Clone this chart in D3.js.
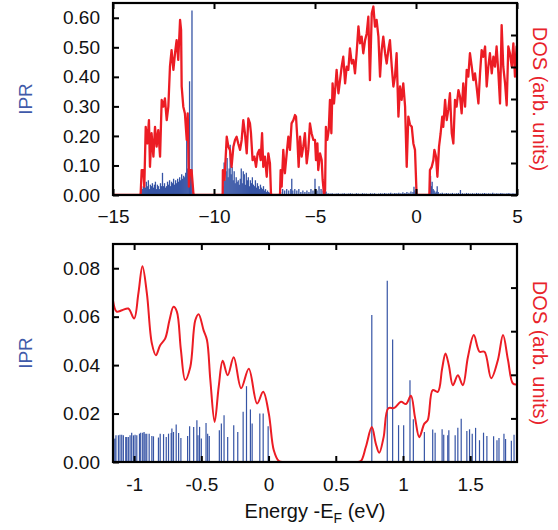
<!DOCTYPE html>
<html><head><meta charset="utf-8">
<script src="https://cdn.jsdelivr.net/npm/d3@7"></script>
<style>body{margin:0;background:#fff}svg{display:block}</style>
</head><body>
<svg id="c" width="558" height="530"></svg>
<script>
// ---------- DATA ----------
const topXTicks = [-15, -10, -5, 0, 5];
const topYTicks = [0, 0.1, 0.2, 0.3, 0.4, 0.5, 0.6];
const topDosTicks = [0, 1, 2, 3, 4, 5];
const botXTicks = [-1, -0.5, 0, 0.5, 1, 1.5];
const botXLabels = ["-1", "-0.5", "0", "0.5", "1", "1.5"];
const botYTicks = [0, 0.02, 0.04, 0.06, 0.08];
const botDosTicks = [1, 2, 3, 4];

// Top panel DOS (energy eV, arb. units)
const dosTop = [
[-15,0],[-13.66,0],[-13.63,0.05],[-13.58,0.78],[-13.50,0.78],[-13.45,0.26],[-13.38,2.13],[-13.30,1.61],[-13.22,2.34],[-13.17,0.88],[-13.09,1.93],[-13.00,1.20],[-12.92,2.13],[-12.84,1.51],[-12.76,2.03],[-12.67,1.20],[-12.59,2.97],[-12.51,2.76],[-12.43,3.02],[-12.34,2.34],[-12.26,2.76],[-12.18,4.01],[-12.10,4.53],[-12.01,3.91],[-11.93,4.43],[-11.85,4.84],[-11.77,4.22],[-11.68,5.47],[-11.63,5.16],[-11.60,3.39],[-11.52,2.76],[-11.44,2.55],[-11.35,1.72],[-11.30,2.55],[-11.24,0.26],[-11.19,0.78],[-11.11,0.78],[-11.02,0.05],[-10.98,0],
[-9.60,0],[-9.57,0.05],[-9.56,0.78],[-9.48,0.47],[-9.37,1.82],[-9.29,1.51],[-9.21,1.41],[-9.13,0.88],[-9.04,1.51],[-8.96,1.72],[-8.88,1.82],[-8.80,1.61],[-8.71,1.41],[-8.63,1.72],[-8.55,2.34],[-8.47,1.93],[-8.38,1.30],[-8.30,2.39],[-8.22,2.24],[-8.17,1.93],[-8.09,1.09],[-8.00,1.20],[-7.92,0.88],[-7.84,1.30],[-7.76,1.41],[-7.69,1.09],[-7.62,1.93],[-7.56,0.88],[-7.48,1.20],[-7.39,0.57],[-7.31,1.30],[-7.23,0.99],[-7.18,0.05],[-7.15,0],
[-6.75,0],[-6.73,0.05],[-6.70,0.78],[-6.65,0.26],[-6.57,1.41],[-6.49,0.68],[-6.40,1.30],[-6.32,1.82],[-6.24,1.41],[-6.16,2.24],[-6.07,2.34],[-5.99,2.50],[-5.94,2.45],[-5.87,1.72],[-5.81,0.88],[-5.74,1.82],[-5.66,1.20],[-5.58,1.51],[-5.50,1.93],[-5.41,0.99],[-5.33,1.41],[-5.25,2.24],[-5.17,1.93],[-5.08,1.72],[-5.00,1.72],[-4.95,1.09],[-4.88,1.61],[-4.84,0.78],[-4.75,1.30],[-4.67,1.09],[-4.62,0.47],[-4.55,0],[-4.50,0.16],
[-4.46,2.13],[-4.39,1.72],[-4.32,2.03],[-4.26,2.97],[-4.19,1.93],[-4.13,3.49],[-4.06,2.86],[-3.99,3.39],[-3.93,3.91],[-3.84,3.18],[-3.76,3.59],[-3.68,4.01],[-3.60,4.32],[-3.51,3.49],[-3.43,4.01],[-3.35,3.91],[-3.27,4.58],[-3.18,4.11],[-3.10,4.22],[-3.02,3.80],[-2.94,4.43],[-2.85,5.27],[-2.77,4.74],[-2.69,4.95],[-2.61,4.43],[-2.52,4.84],[-2.44,5.05],[-2.36,5.57],[-2.28,3.59],[-2.19,5.68],[-2.11,5.89],[-2.03,5.26],[-1.95,5.47],[-1.86,4.95],[-1.78,3.70],[-1.70,4.53],[-1.62,4.95],[-1.53,4.43],[-1.45,4.11],[-1.37,4.53],[-1.29,4.84],[-1.20,4.01],[-1.12,3.39],[-1.04,3.70],[-0.96,4.43],[-0.87,2.45],[-0.79,3.39],[-0.71,2.97],[-0.63,3.49],[-0.54,2.76],[-0.46,0.88],[-0.38,2.45],[-0.30,2.20],[-0.21,2.13],[-0.13,1.61],[-0.05,1.41],[0.03,0],
[0.66,0],[0.69,0.78],[0.78,0.88],[0.86,1.09],[0.91,1.41],[0.99,1.20],[1.06,0.57],[1.14,1.51],[1.22,1.93],[1.30,2.45],[1.35,2.13],[1.44,2.97],[1.52,2.34],[1.60,2.66],[1.68,3.18],[1.77,1.93],[1.85,1.61],[1.93,2.97],[2.01,2.76],[2.10,3.28],[2.18,3.07],[2.26,2.55],[2.34,3.49],[2.43,2.76],[2.51,3.91],[2.59,3.70],[2.67,4.43],[2.76,4.01],[2.84,3.59],[2.92,3.80],[3.00,3.39],[3.09,2.86],[3.17,3.80],[3.25,4.53],[3.33,4.32],[3.42,4.64],[3.50,3.39],[3.58,4.01],[3.66,4.43],[3.75,3.80],[3.83,4.32],[3.91,4.01],[3.99,4.64],[4.08,3.80],[4.16,2.86],[4.24,5.31],[4.32,4.01],[4.41,3.49],[4.49,2.80],[4.57,4.64],[4.65,4.43],[4.74,4.01],[4.82,4.74],[4.90,3.70],[4.98,4.64],[5.0,4.5]
];

// Top panel IPR (energy eV, IPR)
const iprTop = [
[-13.60,0.045],[-13.55,0.02],[-13.50,0.03],[-13.45,0.05],[-13.40,0.025],[-13.35,0.045],[-13.30,0.03],[-13.25,0.05],[-13.20,0.02],[-13.15,0.035],[-13.10,0.03],[-13.05,0.04],[-13.00,0.025],[-12.95,0.035],[-12.90,0.045],[-12.85,0.02],[-12.80,0.035],[-12.75,0.03],[-12.70,0.02],[-12.65,0.04],[-12.60,0.03],[-12.55,0.075],[-12.50,0.03],[-12.45,0.04],[-12.40,0.025],[-12.35,0.03],[-12.30,0.045],[-12.25,0.035],[-12.20,0.05],[-12.15,0.03],[-12.10,0.045],[-12.05,0.04],[-12.00,0.055],[-11.95,0.035],[-11.90,0.05],[-11.85,0.04],[-11.80,0.055],[-11.75,0.045],[-11.70,0.06],[-11.65,0.05],[-11.60,0.07],[-11.55,0.055],[-11.50,0.065],[-11.45,0.06],[-11.40,0.075],[-11.35,0.21],[-11.30,0.09],[-11.25,0.10],[-11.21,0.385],[-11.17,0.085],[-11.13,0.06],[-11.09,0.625],[-11.05,0.02],
[-9.55,0.03],[-9.50,0.11],[-9.45,0.05],[-9.40,0.08],[-9.35,0.125],[-9.30,0.06],[-9.25,0.09],[-9.20,0.17],[-9.15,0.07],[-9.10,0.095],[-9.05,0.05],[-9.00,0.08],[-8.95,0.04],[-8.90,0.06],[-8.85,0.045],[-8.80,0.05],[-8.75,0.035],[-8.70,0.055],[-8.65,0.09],[-8.60,0.04],[-8.55,0.08],[-8.50,0.07],[-8.45,0.035],[-8.40,0.075],[-8.35,0.05],[-8.30,0.06],[-8.25,0.03],[-8.20,0.05],[-8.15,0.04],[-8.10,0.06],[-8.05,0.035],[-8.00,0.03],[-7.95,0.05],[-7.90,0.025],[-7.85,0.04],[-7.80,0.03],[-7.75,0.02],[-7.70,0.035],[-7.65,0.025],[-7.60,0.02],[-7.55,0.03],[-7.50,0.015],[-7.45,0.02],[-7.40,0.01],[-7.35,0.015],[-7.30,0.01],[-7.25,0.008],
[-6.70,0.01],[-6.60,0.02],[-6.50,0.015],[-6.40,0.02],[-6.30,0.015],[-6.20,0.02],[-6.15,0.055],[-6.10,0.015],[-6.00,0.02],[-5.90,0.015],[-5.80,0.02],[-5.70,0.01],[-5.60,0.015],[-5.50,0.01],[-5.40,0.015],[-5.30,0.01],[-5.20,0.02],[-5.10,0.015],[-5.00,0.055],[-4.95,0.02],[-4.90,0.015],[-4.80,0.03],[-4.70,0.02],[-4.60,0.015],[-4.50,0.01],
[-4.45,0.012],[-4.35,0.006],[-4.25,0.005],[-4.15,0.006],[-4.05,0.004],[-3.95,0.005],[-3.85,0.006],[-3.75,0.004],[-3.65,0.005],[-3.55,0.006],[-3.45,0.004],[-3.35,0.005],[-3.25,0.006],[-3.15,0.005],[-3.05,0.004],[-2.95,0.006],[-2.85,0.005],[-2.75,0.004],[-2.65,0.006],[-2.55,0.005],[-2.45,0.005],[-2.35,0.004],[-2.25,0.006],[-2.15,0.005],[-2.05,0.006],[-1.95,0.004],[-1.85,0.005],[-1.75,0.006],[-1.65,0.005],[-1.55,0.007],[-1.45,0.005],[-1.35,0.006],[-1.25,0.008],[-1.15,0.005],[-1.05,0.007],[-0.95,0.006],[-0.85,0.008],[-0.75,0.006],[-0.65,0.009],[-0.55,0.007],[-0.45,0.01],[-0.35,0.008],[-0.25,0.012],[-0.15,0.01],[-0.10,0.028],[-0.05,0.015],[0.0,0.01],
[0.68,0.02],[0.72,0.065],[0.76,0.03],[0.80,0.045],[0.85,0.02],[0.90,0.015],[0.95,0.008],[1.00,0.012],[1.05,0.03],[1.10,0.01],[1.20,0.006],[1.30,0.008],[1.40,0.005],[1.50,0.007],[1.60,0.006],[1.70,0.005],[1.80,0.007],[1.90,0.005],[2.00,0.006],[2.10,0.007],[2.20,0.017],[2.30,0.006],[2.40,0.005],[2.50,0.007],[2.60,0.006],[2.70,0.005],[2.80,0.006],[2.90,0.005],[3.00,0.007],[3.10,0.006],[3.20,0.005],[3.30,0.006],[3.40,0.007],[3.50,0.005],[3.60,0.006],[3.70,0.005],[3.80,0.008],[3.90,0.005],[4.00,0.006],[4.10,0.005],[4.20,0.007],[4.30,0.006],[4.40,0.005],[4.50,0.006],[4.60,0.007],[4.70,0.005],[4.80,0.006],[4.90,0.005],[4.98,0.006]
];

// Bottom panel DOS
const dosBot = [
[-1.157,3.70],[-1.13,3.45],[-1.09,3.48],[-1.043,3.52],[-1.0,3.29],[-0.968,3.87],[-0.938,4.49],[-0.905,3.87],[-0.868,2.72],[-0.838,2.45],[-0.806,2.68],[-0.769,2.83],[-0.737,3.25],[-0.707,3.56],[-0.682,3.45],[-0.652,2.57],[-0.62,1.88],[-0.582,2.18],[-0.545,3.25],[-0.52,3.39],[-0.483,3.02],[-0.458,2.80],[-0.433,1.88],[-0.401,0.92],[-0.371,1.72],[-0.341,2.32],[-0.304,1.99],[-0.259,2.40],[-0.204,1.69],[-0.147,2.14],[-0.085,1.34],[-0.040,1.61],[0.002,1.11],[0.039,0.27],[0.077,0.02],[0.12,0],[0.65,0],[0.686,0.02],[0.724,0.35],[0.768,0.80],[0.798,0.42],[0.823,0.21],[0.856,0.57],[0.890,1.23],[0.935,1.24],[0.985,1.38],[1.022,1.33],[1.059,1.52],[1.089,1.03],[1.121,0.57],[1.159,0.88],[1.184,0.96],[1.221,1.65],[1.259,1.61],[1.291,2.14],[1.316,2.49],[1.341,2.22],[1.371,1.76],[1.408,1.99],[1.445,1.76],[1.483,2.41],[1.527,2.91],[1.569,2.53],[1.606,2.53],[1.656,1.92],[1.706,2.34],[1.744,2.91],[1.781,2.34],[1.818,1.80],[1.848,1.78]
];

// Bottom panel IPR
const iprBot = [
[-1.150,0.0095],[-1.142,0.0097],[-1.135,0.011],[-1.117,0.011],[-1.105,0.0113],[-1.092,0.0113],[-1.080,0.011],[-1.062,0.0103],[-1.055,0.0103],[-1.043,0.0103],[-1.030,0.011],[-1.018,0.0121],[-1.005,0.011],[-0.993,0.0113],[-0.980,0.011],[-0.960,0.0117],[-0.951,0.0121],[-0.936,0.0121],[-0.926,0.0124],[-0.918,0.0117],[-0.906,0.0117],[-0.888,0.0117],[-0.868,0.0107],[-0.856,0.0106],[-0.819,0.0101],[-0.806,0.0117],[-0.781,0.0115],[-0.761,0.0103],[-0.744,0.0117],[-0.724,0.012],[-0.719,0.0138],[-0.707,0.0124],[-0.687,0.0155],[-0.669,0.012],[-0.652,0.0099],[-0.602,0.0107],[-0.587,0.0148],[-0.557,0.0145],[-0.533,0.0172],[-0.525,0.011],[-0.513,0.0145],[-0.500,0.0097],[-0.465,0.0161],[-0.453,0.0117],[-0.441,0.0107],[-0.366,0.0131],[-0.351,0.0159],[-0.331,0.0193],[-0.304,0.0103],[-0.259,0.0152],[-0.229,0.0124],[-0.189,0.0207],[-0.164,0.0313],[-0.135,0.0217],[-0.122,0.0159],[-0.065,0.02],[-0.040,0.02],[-0.003,0.0148],
[0.768,0.0607],[0.883,0.0748],[0.923,0.0506],[0.967,0.0152],[1.005,0.0152],[1.052,0.0338],[1.077,0.0177],[1.159,0.0124],[1.221,0.0134],[1.239,0.0121],[1.291,0.0135],[1.303,0.0113],[1.333,0.011],[1.341,0.0131],[1.388,0.011],[1.408,0.0141],[1.433,0.0179],[1.475,0.0128],[1.495,0.0135],[1.515,0.0117],[1.540,0.0141],[1.569,0.009],[1.599,0.0121],[1.624,0.0107],[1.674,0.0106],[1.699,0.009],[1.714,0.0099],[1.751,0.0117],[1.763,0.0095],[1.806,0.0088],[1.826,0.0113]
];

// ---------- DRAW ----------
const RED = "#ec1c24", BLUE = "#3654a5", FONT = "Liberation Sans, Arial, Helvetica, sans-serif";
const svg = d3.select("#c");

function panel(cfg) {
  const {L, R, T, B, xDom, yDom, dDom, xTicks, xFmt, yTicks, yFmt, dTicks, dos, ipr, curve, barW, lineW, id} = cfg;
  const x = d3.scaleLinear(xDom, [L, R]);
  const y = d3.scaleLinear(yDom, [B, T]);
  const yd = d3.scaleLinear(dDom, [B, T]);
  const g = svg.append("g");
  g.append("clipPath").attr("id", id).append("rect")
    .attr("x", L).attr("y", T).attr("width", R - L).attr("height", B - T);
  const data = g.append("g").attr("clip-path", `url(#${id})`);
  data.selectAll("line.bar").data(ipr).join("line").attr("class", "bar")
    .attr("x1", d => x(d[0])).attr("x2", d => x(d[0]))
    .attr("y1", y(0)).attr("y2", d => y(d[1]))
    .attr("stroke", BLUE).attr("stroke-width", barW);
  data.append("path").datum(dos)
    .attr("d", d3.line().x(d => x(d[0])).y(d => yd(d[1])).curve(curve))
    .attr("fill", "none").attr("stroke", RED).attr("stroke-width", lineW).attr("stroke-linejoin", "round");

  const style = sel => {
    sel.select(".domain").remove();
    sel.selectAll(".tick line").attr("stroke", "#000").attr("stroke-width", 2);
    sel.selectAll("text").attr("font-family", FONT).attr("font-size", 19).attr("fill", "#111");
  };
  g.append("g").attr("transform", `translate(0,${B})`)
    .call(d3.axisBottom(x).tickValues(xTicks).tickFormat(xFmt).tickSizeInner(-6).tickSizeOuter(0).tickPadding(cfg.xPad))
    .call(style);
  g.append("g").attr("transform", `translate(0,${T})`)
    .call(d3.axisTop(x).tickValues(xTicks).tickFormat("").tickSizeInner(-6).tickSizeOuter(0))
    .call(style);
  g.append("g").attr("transform", `translate(${L},0)`)
    .call(d3.axisLeft(y).tickValues(yTicks).tickFormat(yFmt).tickSizeInner(-6).tickSizeOuter(0).tickPadding(13))
    .call(style);
  g.append("g").attr("transform", `translate(${R},0)`)
    .call(d3.axisRight(yd).tickValues(dTicks).tickFormat("").tickSizeInner(-6).tickSizeOuter(0))
    .call(style);
  g.append("rect").attr("x", L).attr("y", T).attr("width", R - L).attr("height", B - T)
    .attr("fill", "none").attr("stroke", "#000").attr("stroke-width", 2.2);

  const cy = (T + B) / 2;
  g.append("text").attr("transform", `translate(32,${cy}) rotate(-90)`)
    .attr("text-anchor", "middle").attr("font-family", FONT).attr("font-size", 19)
    .attr("fill", "#3f5aa9").text("IPR");
  g.append("text").attr("transform", `translate(533,${cy}) rotate(90)`)
    .attr("text-anchor", "middle").attr("font-family", FONT).attr("font-size", 20)
    .attr("fill", "#e8232b").text("DOS (arb. units)");
}

panel({id: "cp1", L: 113, R: 517, T: 3, B: 195, xDom: [-15, 5], yDom: [0, 0.65], dDom: [0, 6],
  xTicks: topXTicks, xFmt: d3.format("d"), yTicks: topYTicks, yFmt: d3.format(".2f"), dTicks: topDosTicks,
  dos: dosTop, ipr: iprTop, curve: d3.curveLinear, barW: 1.3, lineW: 2.3, xPad: 15});

panel({id: "cp2", L: 113, R: 517, T: 244, B: 462, xDom: [-1.157, 1.848], yDom: [0, 0.09], dDom: [0, 5],
  xTicks: botXTicks, xFmt: (d, i) => botXLabels[i], yTicks: botYTicks, yFmt: d3.format(".2f"), dTicks: botDosTicks,
  dos: dosBot, ipr: iprBot, curve: d3.curveCatmullRom.alpha(0.5), barW: 1.2, lineW: 2, xPad: 16});

const xl = svg.append("text").attr("x", 315).attr("y", 518).attr("text-anchor", "middle")
  .attr("font-family", FONT).attr("font-size", 20).attr("fill", "#111");
xl.append("tspan").text("Energy -E");
xl.append("tspan").attr("font-size", 14).attr("dy", 5).text("F");
xl.append("tspan").attr("dy", -5).text(" (eV)");
</script>
</body></html>
